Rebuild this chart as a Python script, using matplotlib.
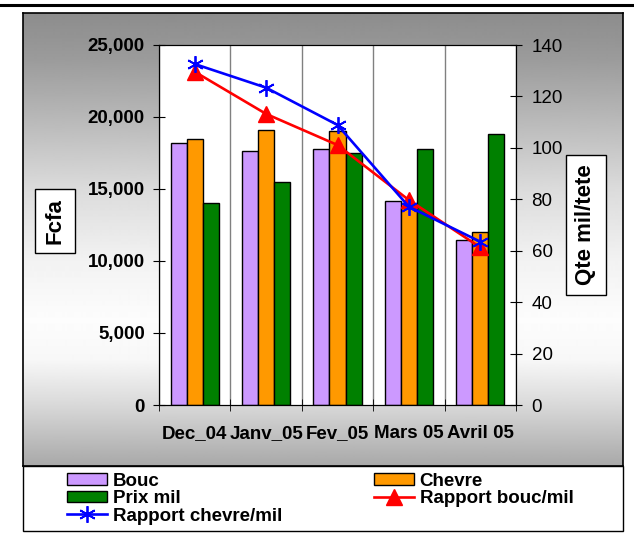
import numpy as np
import matplotlib
matplotlib.use('Agg')
import matplotlib.pyplot as plt
from matplotlib.patches import Rectangle
from matplotlib.lines import Line2D

plt.rcParams['font.family'] = ['Liberation Sans', 'DejaVu Sans']

# prix moyens (Fcfa) et rapports d'echange (kg de mil par tete)
mois = ['Dec_04', 'Janv_05', 'Fev_05', 'Mars 05', 'Avril 05']
bouc = [18170, 17660, 17780, 14170, 11460]
chevre = [18500, 19120, 19000, 13700, 11990]
prix_mil = [14050, 15510, 17480, 17780, 18800]
rapport_bouc = [129.6, 113.2, 101.1, 79.7, 61.3]
rapport_chevre = [132.6, 123.4, 108.9, 77.1, 63.5]

yticks_fcfa = [0, 5000, 10000, 15000, 20000, 25000]
yticks_qte = [0, 20, 40, 60, 80, 100, 120, 140]

W, H = 634, 533
fig = plt.figure(figsize=(W/100, H/100), dpi=100)

def fx(px):
    return px / W

def fy(py):
    return 1 - py / H

# fond gris degrade du cadre
bg = fig.add_axes([fx(23), fy(466), fx(623)-fx(23), fy(13)-fy(466)])
rows = np.arange(13, 466)
shade = np.interp(rows, [13, 60, 117, 189, 261, 320, 360, 405, 440, 466],
                  [0.55, 0.61, 0.72, 0.86, 0.95, 0.99, 0.97, 0.85, 0.74, 0.66])
bg.imshow(shade[:, None], aspect='auto', cmap='gray', vmin=0, vmax=1,
          extent=[0, 1, 0, 1], interpolation='bilinear')
bg.set_xticks([])
bg.set_yticks([])
for s in bg.spines.values():
    s.set_linewidth(1.2)

ax = fig.add_axes([fx(159), fy(405), fx(516)-fx(159), fy(45)-fy(405)])
ax.set_facecolor('white')
x = np.arange(len(mois))
w = 0.225
b1 = ax.bar(x - w, bouc, w, color='#CC99FF', edgecolor='black', lw=1, label='Bouc', zorder=2)
b2 = ax.bar(x, chevre, w, color='#FF9900', edgecolor='black', lw=1, label='Chevre', zorder=2)
b3 = ax.bar(x + w, prix_mil, w, color='#008000', edgecolor='black', lw=1, label='Prix mil', zorder=2)

ax.set_xlim(-0.5, 4.5)
ax.set_ylim(0, 25000)
ax.set_xticks(x, mois, fontweight='bold', fontsize=13.5)
ax.set_xticks(np.arange(-0.5, 5), minor=True)
ax.tick_params(axis='x', which='major', length=0, pad=14.5)
ax.tick_params(axis='x', which='minor', direction='inout', length=8.5)
ax.grid(axis='x', which='minor', color='#808080', lw=1)
ax.set_axisbelow(True)
ax.set_yticks(yticks_fcfa, [f'{v:,}' for v in yticks_fcfa], fontweight='bold', fontsize=13.5)
ax.tick_params(axis='y', direction='inout', length=8.5, pad=6)

ax2 = ax.twinx()
l1, = ax2.plot(x, rapport_bouc, color='red', lw=1.9, marker='^', markersize=11,
               label='Rapport bouc/mil', zorder=3)
l2, = ax2.plot(x, rapport_chevre, color='blue', lw=1.9, marker=(6, 2, 0), markersize=12,
               markeredgewidth=1.3, label='Rapport chevre/mil', zorder=4)
ax2.set_ylim(0, 140)
ax2.set_yticks(yticks_qte, [str(v) for v in yticks_qte], fontsize=13.5)
ax2.tick_params(axis='y', direction='inout', length=8.5, pad=7)

box = dict(boxstyle='square,pad=0.42', fc='white', ec='black', lw=1)
ax.set_ylabel('Fcfa', fontsize=16, fontweight='bold', va='center', bbox=box)
ax.yaxis.set_label_coords(-0.291, 0.511)
ax2.set_ylabel('Qte mil/tete', fontsize=16, fontweight='bold', va='center', bbox=box)
ax2.yaxis.set_label_coords(1.196, 0.5)

# cadre de la legende
fig.add_artist(Rectangle((fx(23), fy(531)), fx(623)-fx(23), fy(466)-fy(531),
                         transform=fig.transFigure, fc='white', ec='black', lw=1, zorder=1))
fig.legend([b1, b3, l2, b2, l1],
           ['Bouc', 'Prix mil', 'Rapport chevre/mil', 'Chevre', 'Rapport bouc/mil'],
           ncol=2, loc='upper left', bbox_to_anchor=(fx(67), fy(472.5)),
           frameon=False, borderpad=0, borderaxespad=0,
           handlelength=2.13, handleheight=0.6, handletextpad=0.32,
           columnspacing=4.87, labelspacing=0.03,
           prop=dict(weight='bold', size=13.5))

# trait noir en haut de page
fig.add_artist(Line2D([0, 1], [fy(5), fy(5)], color='black', lw=2.2))

fig.savefig('out.png', dpi=100)
